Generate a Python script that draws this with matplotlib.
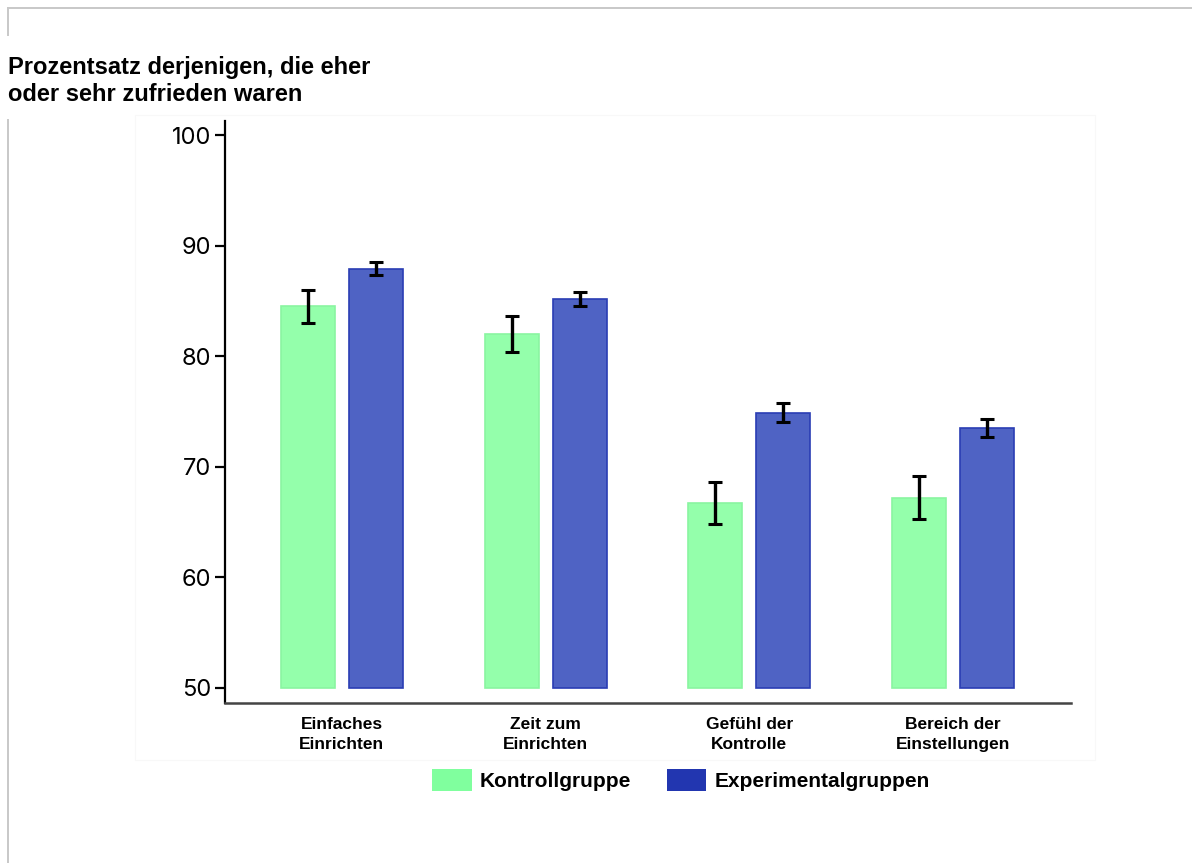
import matplotlib

matplotlib.use("Agg")
import matplotlib.pyplot as plt
import numpy as np
from matplotlib.lines import Line2D
from matplotlib.patches import Patch, Rectangle

# survey results: share (%) rating the setup "eher" or "sehr zufrieden"
categories = ["Einfaches\nEinrichten", "Zeit zum\nEinrichten", "Gefühl der\nKontrolle", "Bereich der\nEinstellungen"]
kontroll = [84.5, 82.0, 66.7, 67.2]
kontroll_err = [1.5, 1.6, 1.9, 1.95]
experimental = [87.9, 85.2, 74.9, 73.5]
experimental_err = [0.6, 0.65, 0.85, 0.85]
series_labels = ["Kontrollgruppe", "Experimentalgruppen"]
yticks = [50, 60, 70, 80, 90, 100]

GREEN = "#80ff9e"
BLUE = "#2236b0"
GREEN_FILL = "#94ffab"
BLUE_FILL = "#4f63c4"

plt.rcParams["font.family"] = ["Liberation Sans", "DejaVu Sans"]

fig = plt.figure(figsize=(11.92, 8.63), dpi=100)
W, H = 1192, 863


def px(x0, y0):
    return x0 / W, 1 - y0 / H


# page frame lines
frame = "#c8c8c8"
fig.add_artist(Line2D([8 / W, 1], [1 - 8 / H] * 2, color=frame, lw=1.4))
fig.add_artist(Line2D([8 / W] * 2, [1 - 8 / H, 1 - 35 / H], color=frame, lw=1.4))
fig.add_artist(Line2D([8 / W] * 2, [1 - 120 / H, 0], color=frame, lw=1.4))
# faint chart box
fig.add_artist(Rectangle(px(135, 760), 960 / W, 645 / H, fill=False,
                         edgecolor="#f8f8f8", lw=0.8))

ax = fig.add_axes([225 / W, 1 - 703 / H, 846 / W, 582 / H])

x = np.arange(len(categories))
width = 0.265
off = 0.167
base = 50
ax.bar(x - off, np.array(kontroll) - base, width, bottom=base, color=GREEN_FILL,
       edgecolor="#8af5a1", linewidth=1.2, zorder=2)
ax.bar(x + off, np.array(experimental) - base, width, bottom=base, color=BLUE_FILL,
       edgecolor="#2a3db4", linewidth=1.2, zorder=2)
ax.errorbar(x - off, kontroll, yerr=kontroll_err, fmt="none", ecolor="black",
            elinewidth=2.4, capsize=5, capthick=2.2, zorder=3)
ax.errorbar(x + off, experimental, yerr=experimental_err, fmt="none", ecolor="black",
            elinewidth=2.4, capsize=5, capthick=2.2, zorder=3)

ax.set_xlim(-0.574, 3.579)
ax.set_ylim(48.64, 101.27)
ax.set_yticks(yticks)
ax.set_yticklabels([str(t) for t in yticks], fontfamily="Inter", fontsize=17)
ax.set_xticks(x)
ax.set_xticklabels(categories, fontsize=12.5, fontweight="bold", linespacing=1.4)
ax.tick_params(axis="x", length=0, pad=10)
ax.tick_params(axis="y", length=7, width=1.6, pad=3)
for s in ("top", "right"):
    ax.spines[s].set_visible(False)
ax.spines["left"].set_linewidth(1.6)
ax.spines["bottom"].set_linewidth(1.8)
ax.spines["bottom"].set_color("#444444")

fig.text(8 / W, 1 - 56 / H, "Prozentsatz derjenigen, die eher\noder sehr zufrieden waren",
         fontsize=17, fontweight="bold", ha="left", va="top", linespacing=1.22)

handles = [Patch(facecolor=GREEN, edgecolor="none"), Patch(facecolor=BLUE, edgecolor="none")]
fig.legend(handles, series_labels, loc="center", bbox_to_anchor=px(681, 780), ncol=2,
           frameon=False, prop={"weight": "bold", "size": 15},
           handlelength=1.9, handleheight=1.2, handletextpad=0.4, columnspacing=1.7)

fig.savefig("out.png", dpi=100)
